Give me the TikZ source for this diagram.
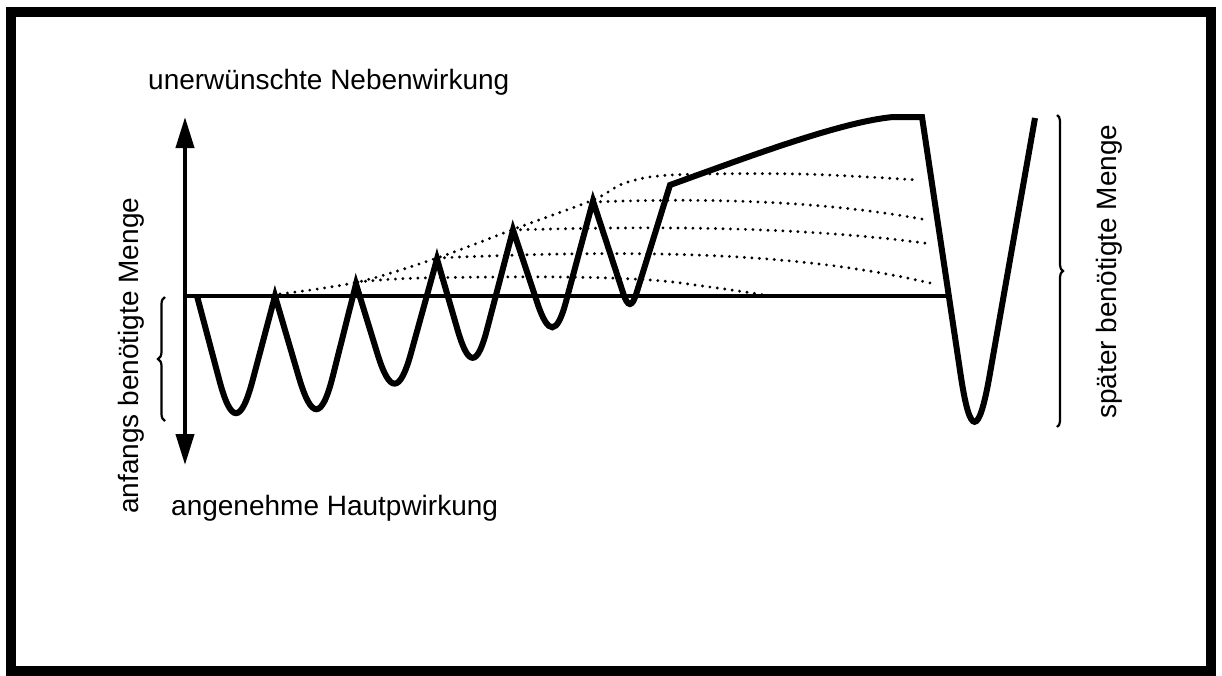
\documentclass[tikz,border=0pt]{standalone}
\usepackage{fontspec}
\setmainfont{Liberation Sans}
\usetikzlibrary{arrows.meta,decorations.pathreplacing,calc}
\begin{document}
\begin{tikzpicture}[x=1pt,y=-1pt,
  frame/.style={line width=10pt},
  axis/.style={line width=4pt},
  curve/.style={line width=6pt, line join=miter, miter limit=5},
  dots/.style={line width=3.2pt, dash pattern=on 0pt off 7.5pt, line cap=round},
  bracestyle/.style={line width=2.2pt, decorate, decoration={brace, amplitude=7pt}},
  lbl/.style={inner sep=0pt, font=\fontsize{28}{33}\selectfont}]
\useasboundingbox (0,0) rectangle (1222,675);
\draw[frame] (11,12) rectangle (1211,671);
% axis
\coordinate (axtop) at (185,117);
\coordinate (axbot) at (185,465);
\draw[axis, {Triangle[length=31pt,width=18pt]}-{Triangle[length=31pt,width=18pt]}] (axbot) -- (axtop);
% baseline
\coordinate (b0) at (185,296);
\coordinate (b1) at (947,296);
\draw[axis] (b0) -- (b1);
% dotted lines
\draw[dots] plot[smooth, tension=0.55] coordinates {(280,294) (358,282) (437,258) (517,228) (593,200) (625,183) (672,175) (800,174) (918,180)};
\draw[dots] plot[smooth, tension=0.6] coordinates {(358,282) (420,278) (560,277) (650,280) (710,287) (765,295)};
\draw[dots] (437,258) .. controls (620,250) and (790,250) .. (930,283);
\draw[dots] (513,230) .. controls (650,226) and (800,226) .. (932,244);
\draw[dots] (593,202) .. controls (700,198) and (820,200) .. (927,220);
% main curve: peaks and valley corners
\coordinate (p0) at (197,296);
\coordinate (c1) at (236,443);
\coordinate (p1) at (275,296);
\coordinate (c2) at (317,439);
\coordinate (p2) at (356,284);
\coordinate (c3) at (395,411);
\coordinate (p3) at (437,259);
\coordinate (c4) at (473,383);
\coordinate (p4) at (513,230);
\coordinate (c5) at (553,350);
\coordinate (p5) at (593,201);
\coordinate (c6) at (630,314);
\coordinate (k) at (670,185);
\coordinate (t1) at (893,117);
\coordinate (t2) at (922,117);
\coordinate (c7) at (974,464);
\coordinate (p7) at (1035,118);
\draw[curve] (p0)
  -- ($(c1)!65pt!(p0)$) .. controls ($(c1)!19.5pt!(p0)$) and ($(c1)!19.5pt!(p1)$) .. ($(c1)!65pt!(p1)$) -- (p1)
  -- ($(c2)!65pt!(p1)$) .. controls ($(c2)!19.5pt!(p1)$) and ($(c2)!19.5pt!(p2)$) .. ($(c2)!65pt!(p2)$) -- (p2)
  -- ($(c3)!60pt!(p2)$) .. controls ($(c3)!18pt!(p2)$) and ($(c3)!18pt!(p3)$) .. ($(c3)!60pt!(p3)$) -- (p3)
  -- ($(c4)!55pt!(p3)$) .. controls ($(c4)!16.5pt!(p3)$) and ($(c4)!16.5pt!(p4)$) .. ($(c4)!55pt!(p4)$) -- (p4)
  -- ($(c5)!50pt!(p4)$) .. controls ($(c5)!15pt!(p4)$) and ($(c5)!15pt!(p5)$) .. ($(c5)!50pt!(p5)$) -- (p5)
  -- ($(c6)!22pt!(p5)$) .. controls ($(c6)!6.6pt!(p5)$) and ($(c6)!6.6pt!(k)$) .. ($(c6)!22pt!(k)$) -- (k)
  .. controls (745,158) and (840,122) .. (t1) -- (t2)
  -- ($(c7)!90pt!(t2)$) .. controls ($(c7)!27pt!(t2)$) and ($(c7)!27pt!(p7)$) .. ($(c7)!90pt!(p7)$) -- (p7);
% braces
\coordinate (lb1) at (165,421);
\coordinate (lb2) at (165,297);
\draw[bracestyle] (lb1) -- (lb2);
\coordinate (rb1) at (1057,115);
\coordinate (rb2) at (1057,427);
\draw[bracestyle, decoration={amplitude=6pt}] (rb1) -- (rb2);
% labels
\node[lbl, anchor=base west] (neben) at (148,89) {unerwünschte Nebenwirkung};
\node[lbl, anchor=base west] (haupt) at (171,515) {angenehme Hautpwirkung};
\node[lbl, anchor=base west, rotate=90] (anf) at (138,514) {anfangs benötigte Menge};
\node[lbl, anchor=base west, rotate=90] (spaet) at (1116,419) {später benötigte Menge};
\end{tikzpicture}
\end{document}
